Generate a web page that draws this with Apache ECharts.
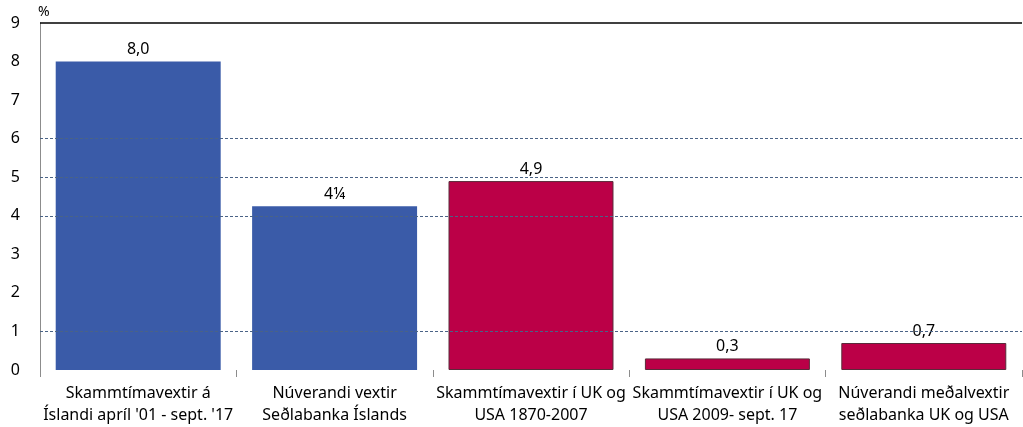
<!DOCTYPE html>
<html>
<head>
<meta charset="utf-8">
<script src="https://cdn.jsdelivr.net/npm/echarts@6/dist/echarts.min.js"></script>
<style>
  html, body { margin: 0; padding: 0; background: #fff; }
  #chart { width: 1023px; height: 427px; }
</style>
</head>
<body>
<div id="chart"></div>
<script>
const categories = [
  'Skammtímavextir á\nÍslandi apríl \'01 - sept. \'17',
  'Núverandi vextir\nSeðlabanka Íslands',
  'Skammtímavextir í UK og\nUSA 1870-2007',
  'Skammtímavextir í UK og\nUSA 2009- sept. 17',
  'Núverandi meðalvextir\nseðlabanka UK og USA'
];
const values = [8.0, 4.25, 4.9, 0.3, 0.7];
const valueLabels = ['8,0', '4¼', '4,9', '0,3', '0,7'];
const barColors = ['#3a5ba8', '#3a5ba8', '#bb0047', '#bb0047', '#bb0047'];
const gridLevels = [1, 4, 5, 6];

const chart = echarts.init(document.getElementById('chart'));

const font = '"Noto Sans", sans-serif';

const option = {
  animation: false,
  grid: { left: 40, right: 1, top: 23, bottom: 57 },
  xAxis: {
    type: 'category',
    data: categories,
    axisLine: { show: false },
    axisTick: { show: true, length: 7, lineStyle: { color: '#8c8c8c' } },
    axisLabel: {
      interval: 0,
      color: '#000',
      fontFamily: font,
      fontSize: 16,
      lineHeight: 22,
      margin: 12
    }
  },
  yAxis: {
    type: 'value',
    min: 0,
    max: 9,
    interval: 1,
    name: '%',
    nameLocation: 'end',
    nameGap: 4,
    nameTextStyle: { color: '#000', fontFamily: font, fontSize: 14, align: 'left', padding: [0, 0, 0, -2] },
    axisLine: { show: true, lineStyle: { color: '#8c8c8c' } },
    axisTick: { show: false },
    splitLine: { show: false },
    axisLabel: { color: '#000', fontFamily: font, fontSize: 16, margin: 20 }
  },
  series: [
    {
      type: 'line',
      data: [],
      silent: true,
      z: 1,
      markLine: {
        silent: true,
        symbol: 'none',
        label: { show: false },
        data: gridLevels.map(v => ({
          yAxis: v,
          lineStyle: { type: [3, 2], color: '#4a6386', width: 1 }
        })).concat([{ yAxis: 9, lineStyle: { type: 'solid', color: '#000', width: 1.5 } }])
      }
    },
    {
      type: 'bar',
      z: 3,
      barCategoryGap: '16%',
      data: values.map((v, i) => ({
        value: v,
        itemStyle: {
          color: barColors[i],
          borderColor: i < 2 ? barColors[i] : '#5a2a3a',
          borderWidth: i < 2 ? 0 : 1
        }
      })),
      label: {
        show: true,
        position: 'top',
        distance: 4,
        color: '#000',
        fontFamily: font,
        fontSize: 16,
        backgroundColor: '#fff',
        padding: [0, 3],
        formatter: p => valueLabels[p.dataIndex]
      }
    }
  ]
};

chart.setOption(option);
</script>
</body>
</html>
